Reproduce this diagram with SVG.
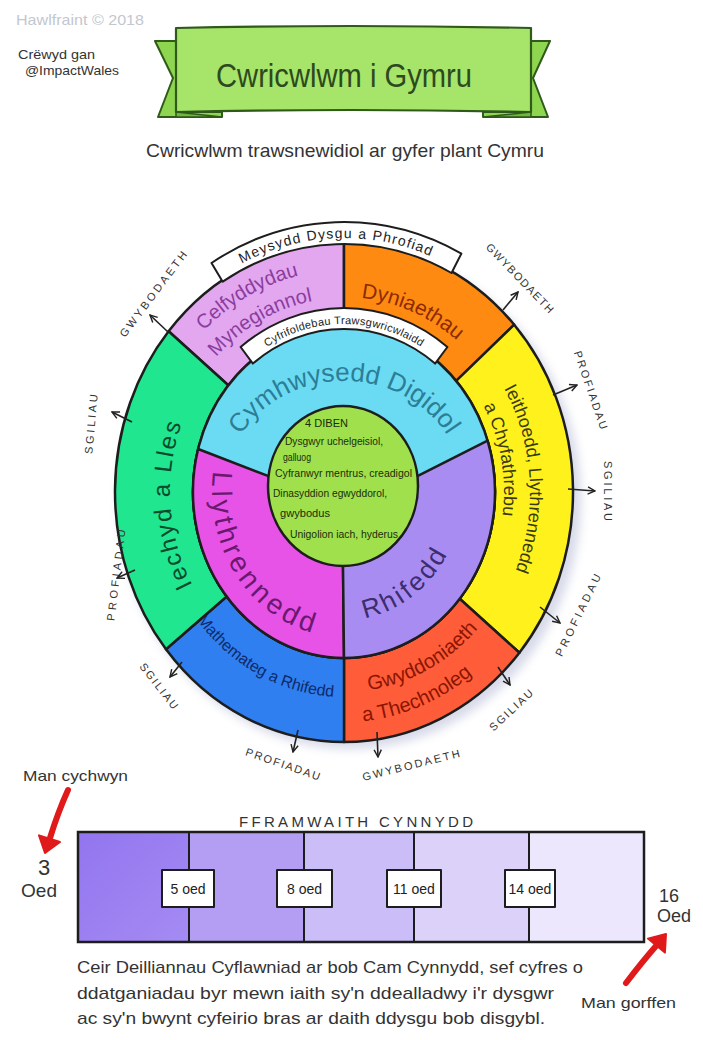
<svg xmlns="http://www.w3.org/2000/svg" width="703" height="1040" viewBox="0 0 703 1040">
<style>
text{font-family:"Liberation Sans","DejaVu Sans",sans-serif;}
.seg{stroke:#1d1d1d;stroke-width:2.5;stroke-linejoin:round;}
.box{fill:#ffffff;stroke:#1d1d1d;stroke-width:2;stroke-linejoin:round;}
.out{font-size:11px;fill:#333;}
.conn{stroke:#222;stroke-width:1.6;fill:none;marker-end:url(#ah);}
.inner{font-size:10px;fill:#1a2e0a;}
.hand{fill:#333;}
.red{stroke:#e01a1a;stroke-width:6;fill:none;stroke-linecap:round;}
</style>
<defs>
<marker id="ah" viewBox="0 0 10 10" refX="9" refY="5" markerWidth="9" markerHeight="9" orient="auto" markerUnits="userSpaceOnUse">
<path d="M1,1 L9,5 L1,9" fill="none" stroke="#222" stroke-width="1.6"/>
</marker>
<filter id="sh" x="-10%" y="-10%" width="120%" height="120%"><feGaussianBlur stdDeviation="5"/></filter>
<linearGradient id="g1" x1="0" y1="0" x2="1" y2="1"><stop offset="0" stop-color="#9275ef"/><stop offset="1" stop-color="#a58bf3"/></linearGradient>
<path id="tp-meysydd" d="M227,272 A234,254 0 0 1 446.6,263.7"/>
<path id="tp-cyfrif" d="M258.4,352.7 A153,168 0 0 1 429.6,352.7"/>
<path id="tp-cymh" d="M231.2,454 A120,111 0 0 1 456.8,454"/>
<path id="tp-llyth" d="M216.5,454.5 A132,145 0 0 0 332.5,636.4"/>
<path id="tp-rhif" d="M360.4,618.8 A118,128 0 0 0 450.1,548.1"/>
<path id="tp-celf1" d="M159.1,398.2 A204,222 0 0 1 379.4,273.4"/>
<path id="tp-celf2" d="M182.7,410 A178,194 0 0 1 374.9,300.9"/>
<path id="tp-dyn" d="M319.1,298.9 A179,195 0 0 1 485.1,371.9"/>
<path id="tp-ieith1" d="M488.6,364.2 A186,203 0 0 1 503.4,596.6"/>
<path id="tp-ieith2" d="M455.1,365.4 A160,176 0 0 1 490.2,563.6"/>
<path id="tp-gwydd1" d="M328.1,691.2 A183,200 0 0 0 500.9,595"/>
<path id="tp-gwydd2" d="M303.7,717.8 A211,230 0 0 0 512.5,630.4"/>
<path id="tp-math" d="M178,588.2 A188,205 0 0 0 370.2,695"/>
<path id="tp-iechyd" d="M210.7,613.5 A174,189 0 0 1 196.4,391.8"/>
</defs>

<rect width="703" height="1040" fill="#ffffff"/>

<g id="header">
<text x="16" y="25" font-size="15" fill="#c3c7cf" textLength="128" lengthAdjust="spacingAndGlyphs">Hawlfraint © 2018</text>
<text x="18" y="59" font-size="13" class="hand" textLength="77" lengthAdjust="spacingAndGlyphs">Crëwyd gan</text>
<text x="25" y="75" font-size="13" class="hand" textLength="94" lengthAdjust="spacingAndGlyphs">@ImpactWales</text>
</g>

<g id="banner">
<path d="M155,41 L180,41 L180,112 L222,112 L222,117 L158,117 L173,78 Z" fill="#8fd650" stroke="#2f5a1a" stroke-width="2" stroke-linejoin="round"/>
<path d="M550,41 L528,41 L528,112 L483,112 L483,117 L548,117 L533,78 Z" fill="#8fd650" stroke="#2f5a1a" stroke-width="2" stroke-linejoin="round"/>
<path d="M176,112 L222,117 L176,117 Z" fill="#6fb83a" stroke="#2f5a1a" stroke-width="1.5"/>
<path d="M531,112 L483,117 L531,117 Z" fill="#6fb83a" stroke="#2f5a1a" stroke-width="1.5"/>
<path d="M176,28 Q350,24 531,28 L531,112 Q350,108 176,112 Z" fill="#a6e46a" stroke="#2f5a1a" stroke-width="2.2" stroke-linejoin="round"/>
<text x="216" y="87" font-size="33" fill="#2d4a1e" textLength="256" lengthAdjust="spacingAndGlyphs">Cwricwlwm i Gymru</text>
</g>
<text id="subtitle" x="146" y="157" font-size="19" fill="#333" textLength="398" lengthAdjust="spacingAndGlyphs">Cwricwlwm trawsnewidiol ar gyfer plant Cymru</text>

<ellipse cx="350" cy="499" rx="231" ry="250" fill="#c7cbe0" opacity="0.7" filter="url(#sh)"/>

<g id="aole-celfyddydau">
<path class="seg" fill="#e2a7ee" d="M168.6,331.3 A229,250 0 0 1 344,242 L344,326 A151,166 0 0 0 228.3,385.3 Z"/>
<text font-size="20" fill="#8b3c9e"><textPath href="#tp-celf1" startOffset="50%" text-anchor="middle">Celfyddydau</textPath></text>
<text font-size="20" fill="#8b3c9e"><textPath href="#tp-celf2" startOffset="50%" text-anchor="middle">Mynegiannol</textPath></text>
</g>
<g id="aole-dyniaethau">
<path class="seg" fill="#ff8a12" d="M344,242 A229,250 0 0 1 514.2,324.7 L456.2,380.9 A151,166 0 0 0 344,326 Z"/>
<text font-size="21" fill="#8c2a00"><textPath href="#tp-dyn" startOffset="50%" text-anchor="middle">Dyniaethau</textPath></text>
</g>
<g id="aole-ieithoedd">
<path class="seg" fill="#fff21c" d="M514.2,324.7 A229,250 0 0 1 519.4,652.7 L459.7,598.7 A151,166 0 0 0 456.2,380.9 Z"/>
<text font-size="18" fill="#3a3a10"><textPath href="#tp-ieith1" startOffset="50%" text-anchor="middle">Ieithoedd, Llythrennedd</textPath></text>
<text font-size="18" fill="#3a3a10"><textPath href="#tp-ieith2" startOffset="50%" text-anchor="middle">a Chyfathrebu</textPath></text>
</g>
<g id="aole-gwyddoniaeth">
<path class="seg" fill="#ff5c3a" d="M519.4,652.7 A229,250 0 0 1 344,742 L344,658 A151,166 0 0 0 459.7,598.7 Z"/>
<text font-size="20" fill="#8a1500"><textPath href="#tp-gwydd1" startOffset="50%" text-anchor="middle">Gwyddoniaeth</textPath></text>
<text font-size="20" fill="#8a1500"><textPath href="#tp-gwydd2" startOffset="50%" text-anchor="middle">a Thechnoleg</textPath></text>
</g>
<g id="aole-mathemateg">
<path class="seg" fill="#2f7ff0" d="M344,742 A229,250 0 0 1 166,649.3 L226.7,596.5 A151,166 0 0 0 344,658 Z"/>
<text font-size="16" fill="#0d2a6b"><textPath href="#tp-math" startOffset="50%" text-anchor="middle">Mathemateg a Rhifedd</textPath></text>
</g>
<g id="aole-iechyd">
<path class="seg" fill="#20e690" d="M166,649.3 A229,250 0 0 1 168.6,331.3 L228.3,385.3 A151,166 0 0 0 226.7,596.5 Z"/>
<text font-size="24" fill="#0b4a2c" letter-spacing="2"><textPath href="#tp-iechyd" startOffset="50%" text-anchor="middle">Iechyd a Lles</textPath></text>
</g>

<g id="cymhwysedd-digidol">
<ellipse class="seg" cx="344" cy="492" rx="151" ry="166" fill="#6bdaf3"/>
<text font-size="26" fill="#2b7e96"><textPath href="#tp-cymh" startOffset="50%" text-anchor="middle">Cymhwysedd Digidol</textPath></text>
</g>
<g id="llythrennedd">
<path class="seg" fill="#e653e6" d="M268.6,476.2 L198.1,449 A151,166 0 0 0 344,658 L343,566 L343,486 Z"/>
<text font-size="28" fill="#6b1870" letter-spacing="4"><textPath href="#tp-llyth" startOffset="50%" text-anchor="middle">Llythrennedd</textPath></text>
</g>
<g id="rhifedd">
<path class="seg" fill="#a98cf2" d="M417.4,476.2 L487.6,440.7 A151,166 0 0 1 344,658 L343,566 L343,486 Z"/>
<text font-size="26" fill="#3b2d6e" letter-spacing="3"><textPath href="#tp-rhif" startOffset="50%" text-anchor="middle">Rhifedd</textPath></text>
</g>

<g id="diben">
<ellipse class="seg" cx="343" cy="486" rx="75" ry="80" fill="#a0e04c"/>
<text class="inner" x="305" y="427" textLength="43" lengthAdjust="spacingAndGlyphs">4 DIBEN</text>
<text class="inner" x="285" y="445" textLength="98" lengthAdjust="spacingAndGlyphs">Dysgwyr uchelgeisiol,</text>
<text class="inner" x="283" y="461" textLength="28" lengthAdjust="spacingAndGlyphs">galluog</text>
<text class="inner" x="275" y="477" textLength="137" lengthAdjust="spacingAndGlyphs">Cyfranwyr mentrus, creadigol</text>
<text class="inner" x="273" y="497" textLength="114" lengthAdjust="spacingAndGlyphs">Dinasyddion egwyddorol,</text>
<text class="inner" x="280" y="517" textLength="50" lengthAdjust="spacingAndGlyphs">gwybodus</text>
<text class="inner" x="290" y="538" textLength="108" lengthAdjust="spacingAndGlyphs">Unigolion iach, hyderus</text>
</g>

<g id="label-meysydd">
<path class="box" d="M211.5,263 A250,270 0 0 1 461.4,253.6 L451.5,273 A229,248 0 0 0 222.7,281.7 Z"/>
<text font-size="14" fill="#222" letter-spacing="1.2"><textPath href="#tp-meysydd" startOffset="50%" text-anchor="middle">Meysydd Dysgu a Phrofiad</textPath></text>
</g>
<g id="label-cyfrifoldebau">
<path class="box" d="M240.6,347 A168,184 0 0 1 447.4,347 L435.1,363.6 A148,163 0 0 0 252.9,363.6 Z"/>
<text font-size="11" fill="#222" letter-spacing="0.3"><textPath href="#tp-cyfrif" startOffset="50%" text-anchor="middle">Cyfrifoldebau Trawsgwricwlaidd</textPath></text>
</g>

<g id="outer-labels">
<text class="out" transform="translate(153,294) rotate(-53)" text-anchor="middle" dy="4" textLength="104" lengthAdjust="spacing">GWYBODAETH</text>
<text class="out" transform="translate(520,278) rotate(46)" text-anchor="middle" dy="4" textLength="92" lengthAdjust="spacing">GWYBODAETH</text>
<text class="out" transform="translate(591,390) rotate(71)" text-anchor="middle" dy="4" textLength="82" lengthAdjust="spacing">PROFIADAU</text>
<text class="out" transform="translate(608,491) rotate(90)" text-anchor="middle" dy="4" textLength="60" lengthAdjust="spacing">SGILIAU</text>
<text class="out" transform="translate(578,615) rotate(-64)" text-anchor="middle" dy="4" textLength="90" lengthAdjust="spacing">PROFIADAU</text>
<text class="out" transform="translate(511,710) rotate(-43)" text-anchor="middle" dy="4" textLength="55" lengthAdjust="spacing">SGILIAU</text>
<text class="out" transform="translate(411,765) rotate(-14)" text-anchor="middle" dy="4" textLength="100" lengthAdjust="spacing">GWYBODAETH</text>
<text class="out" transform="translate(283,764) rotate(19)" text-anchor="middle" dy="4" textLength="78" lengthAdjust="spacing">PROFIADAU</text>
<text class="out" transform="translate(159,686) rotate(52)" text-anchor="middle" dy="4" textLength="55" lengthAdjust="spacing">SGILIAU</text>
<text class="out" transform="translate(116,575) rotate(-83)" text-anchor="middle" dy="4" textLength="92" lengthAdjust="spacing">PROFIADAU</text>
<text class="out" transform="translate(91,424) rotate(-85)" text-anchor="middle" dy="4" textLength="60" lengthAdjust="spacing">SGILIAU</text>
</g>

<g id="connectors">
<line class="conn" x1="168" y1="332" x2="150" y2="315"/>
<line class="conn" x1="503" y1="310" x2="518" y2="292"/>
<line class="conn" x1="553" y1="395" x2="577" y2="385"/>
<line class="conn" x1="568" y1="489" x2="595" y2="491"/>
<line class="conn" x1="540" y1="607" x2="560" y2="623"/>
<line class="conn" x1="498" y1="667" x2="510" y2="685"/>
<line class="conn" x1="377" y1="732" x2="378" y2="757"/>
<line class="conn" x1="298" y1="730" x2="293" y2="752"/>
<line class="conn" x1="182" y1="662" x2="170" y2="677"/>
<line class="conn" x1="135" y1="570" x2="117" y2="578"/>
<line class="conn" x1="132" y1="422" x2="112" y2="412"/>
<path class="red" d="M68,790 Q58,812 50,838"/>
<path class="red" d="M626,983 Q642,962 656,946"/>
</g>
<polygon points="60,842 39,835.4 45,853" fill="#e01a1a" stroke="#e01a1a" stroke-width="2" stroke-linejoin="round"/>
<polygon points="664.9,952.6 647.9,938.6 666,934" fill="#e01a1a" stroke="#e01a1a" stroke-width="2" stroke-linejoin="round"/>

<g id="fframwaith">
<text x="239" y="827" font-size="15" class="hand" textLength="234" lengthAdjust="spacing">FFRAMWAITH CYNNYDD</text>
<rect x="78" y="832" width="111" height="110" fill="url(#g1)"/>
<rect x="189" y="832" width="115" height="110" fill="#b49ef4"/>
<rect x="304" y="832" width="110" height="110" fill="#cbbdf7"/>
<rect x="414" y="832" width="115" height="110" fill="#dcd2f9"/>
<rect x="529" y="832" width="115" height="110" fill="#ece7fc"/>
<rect x="78" y="832" width="566" height="110" fill="none" stroke="#1d1d1d" stroke-width="2.5"/>
<line x1="189" y1="832" x2="189" y2="942" stroke="#1d1d1d" stroke-width="2"/>
<line x1="304" y1="832" x2="304" y2="942" stroke="#1d1d1d" stroke-width="2"/>
<line x1="414" y1="832" x2="414" y2="942" stroke="#1d1d1d" stroke-width="2"/>
<line x1="529" y1="832" x2="529" y2="942" stroke="#1d1d1d" stroke-width="2"/>
</g>
<g id="age-5"><rect class="box" x="162" y="870" width="52" height="37"/><text x="188" y="894" font-size="14" fill="#222" text-anchor="middle">5 oed</text></g>
<g id="age-8"><rect class="box" x="277" y="870" width="55" height="37"/><text x="304.5" y="894" font-size="14" fill="#222" text-anchor="middle">8 oed</text></g>
<g id="age-11"><rect class="box" x="387" y="870" width="54" height="37"/><text x="414" y="894" font-size="14" fill="#222" text-anchor="middle">11 oed</text></g>
<g id="age-14"><rect class="box" x="505" y="870" width="50" height="37"/><text x="530" y="894" font-size="14" fill="#222" text-anchor="middle">14 oed</text></g>

<g id="start">
<text x="23" y="781" font-size="15" class="hand" textLength="105" lengthAdjust="spacingAndGlyphs">Man cychwyn</text>
<text x="44" y="875" font-size="22" class="hand" text-anchor="middle">3</text>
<text x="39" y="897" font-size="19" class="hand" text-anchor="middle">Oed</text>
</g>
<g id="end">
<text x="669" y="902" font-size="18" class="hand" text-anchor="middle">16</text>
<text x="674" y="922" font-size="18" class="hand" text-anchor="middle">Oed</text>
<text x="581" y="1008" font-size="15" class="hand" textLength="95" lengthAdjust="spacingAndGlyphs">Man gorffen</text>
</g>

<g id="paragraph">
<text x="77" y="973" font-size="17" class="hand" textLength="506" lengthAdjust="spacingAndGlyphs">Ceir Deilliannau Cyflawniad ar bob Cam Cynnydd, sef cyfres o</text>
<text x="77" y="999" font-size="17" class="hand" textLength="477" lengthAdjust="spacingAndGlyphs">ddatganiadau byr mewn iaith sy'n ddealladwy i'r dysgwr</text>
<text x="77" y="1024" font-size="17" class="hand" textLength="468" lengthAdjust="spacingAndGlyphs">ac sy'n bwynt cyfeirio bras ar daith ddysgu bob disgybl.</text>
</g>
</svg>
